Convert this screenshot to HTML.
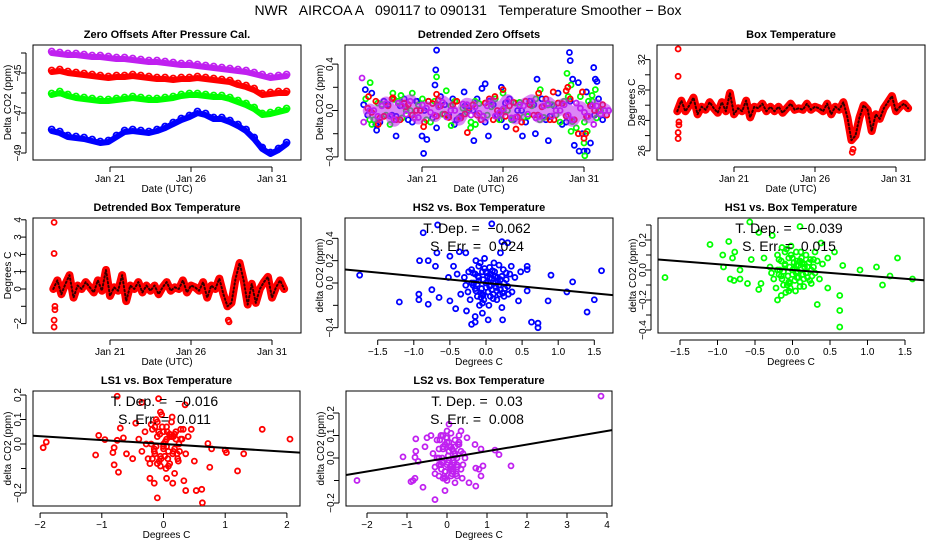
<!DOCTYPE html>
<html><head><meta charset="utf-8"><style>
body{margin:0;background:#fff}
svg{display:block;font-family:"Liberation Sans",Arial,sans-serif}
text{white-space:pre}
</style></head><body>
<svg id="c" width="936" height="540" viewBox="0 0 936 540">
<text x="468" y="15" text-anchor="middle" font-size="14" xml:space="preserve">NWR   AIRCOA A   090117 to 090131   Temperature Smoother − Box</text>
</svg>
<script>
// ---------- data ----------
const seriesT0 = 17.4;
const seriesStep = 0.5;
const zeroPurple = [-44.0,-44.05,-44.1,-44.1,-44.15,-44.2,-44.2,-44.25,-44.3,-44.3,-44.35,-44.4,-44.45,-44.45,-44.5,-44.55,-44.6,-44.6,-44.65,-44.7,-44.75,-44.8,-44.85,-44.9,-44.95,-45.05,-45.15,-45.25,-45.2,-45.15];
const zeroRed = [-44.95,-44.9,-45.0,-45.05,-45.1,-45.15,-45.2,-45.25,-45.2,-45.2,-45.15,-45.2,-45.25,-45.3,-45.3,-45.35,-45.3,-45.3,-45.25,-45.3,-45.35,-45.4,-45.45,-45.6,-45.7,-45.85,-46.1,-46.05,-46.0,-46.0];
const zeroGreen = [-46.1,-46.0,-46.15,-46.25,-46.3,-46.35,-46.4,-46.4,-46.35,-46.3,-46.25,-46.3,-46.35,-46.35,-46.3,-46.25,-46.15,-46.1,-46.1,-46.15,-46.2,-46.2,-46.3,-46.45,-46.6,-46.8,-47.1,-47.05,-46.95,-46.85];
const zeroBlue = [-47.9,-48.0,-48.2,-48.25,-48.3,-48.4,-48.5,-48.45,-48.2,-47.95,-47.9,-47.95,-48.0,-47.9,-47.75,-47.55,-47.35,-47.2,-47.0,-47.1,-47.3,-47.3,-47.45,-47.65,-47.9,-48.3,-48.8,-49.05,-48.85,-48.55];

const detBlue = [0.05,0.15,-0.1,0.05,-0.05,0.1,-0.1,0.0,0.08,-0.15,0.05,0.1,-0.05,0.0,0.1,-0.1,0.05,-0.08,0.1,0.0,-0.1,0.05,0.1,-0.05,0.15,-0.1,-0.3,-0.2,0.05,0.1];
const detGreen = [0.1,-0.08,0.05,-0.12,0.08,0.0,-0.06,0.1,-0.1,0.04,-0.05,0.08,0.02,-0.1,0.06,-0.04,0.1,0.0,-0.08,0.07,-0.05,0.1,-0.06,0.05,-0.1,0.12,-0.15,-0.1,0.08,0.0];
const detRed = [0.02,0.08,-0.05,0.1,-0.08,0.05,0.0,-0.1,0.06,0.04,-0.06,0.08,-0.03,0.05,-0.08,0.1,0.0,-0.05,0.07,-0.1,0.05,-0.04,0.1,-0.08,0.06,0.1,-0.2,-0.05,0.0,0.05];
const detPurple = [0.0,-0.05,0.06,-0.08,0.04,0.08,-0.06,0.02,-0.04,0.07,0.0,-0.07,0.05,0.03,-0.05,0.06,-0.02,0.08,-0.06,0.04,0.08,-0.05,0.06,0.0,0.05,-0.08,0.02,-0.05,0.04,0.0];
const outBlueT = [17.5,18.2,19.4,20.7,21.0,21.1,21.3,21.8,21.85,21.9,23.0,23.6,24.2,24.7,24.9,25.1,25.9,26.2,27.2,28.1,28.0,28.8,30.1,30.15,30.3,30.7,31.0,31.2,31.4,31.6,31.7,31.8];
const outBlueV = [0.18,-0.17,-0.22,0.08,-0.22,-0.37,-0.25,0.22,0.35,0.52,-0.12,0.16,-0.26,0.19,0.23,-0.22,0.2,-0.14,-0.22,0.27,-0.2,-0.26,0.5,0.43,0.27,-0.35,-0.35,-0.35,-0.28,0.37,0.27,0.25];
const outGreenT = [17.8,17.9,19.2,19.7,20.4,21.9,22.5,22.8,24.0,24.3,26.0,28.3,29.95,30.2,30.2,31.0,31.05,31.2,31.5,31.7];
const outGreenV = [0.24,-0.12,0.15,0.13,0.15,0.29,0.17,-0.13,-0.15,-0.12,0.15,0.18,0.32,0.22,-0.18,-0.28,-0.39,-0.18,0.13,0.18];
const outRedT = [17.7,18.3,19.2,20.0,21.1,21.9,22.0,23.8,25.5,26.0,26.8,28.2,29.1,29.9,30.0,31.0,31.1,31.2];
const outRedV = [0.12,-0.12,0.11,0.03,-0.14,0.14,0.09,-0.19,0.12,0.18,-0.16,0.15,0.16,0.17,0.2,-0.24,-0.2,-0.05];
const outPurpleT = [17.3,17.4,31.6];
const outPurpleV = [0.28,-0.1,-0.12];

const boxT0 = 17.5;
const boxStep = 0.25;
const boxTemp = [28.6,29.3,28.6,29.0,29.5,28.4,28.9,28.7,29.2,28.8,28.5,29.2,28.6,29.8,28.4,28.8,28.6,29.3,28.2,28.9,28.8,29.1,28.6,28.9,28.6,28.9,28.5,28.8,29.1,28.7,28.8,28.7,29.1,28.7,28.9,28.8,28.6,29.1,28.4,28.9,28.7,29.2,28.2,26.7,27.0,28.2,29.0,28.7,27.3,28.4,28.1,28.8,29.2,29.6,28.6,28.9,29.1,28.8];
const boxOutT = [17.55,17.55,17.6,17.6,17.55,17.55,28.3,28.35];
const boxOutV = [32.7,30.9,27.9,27.7,27.2,26.8,25.9,26.1];
const detBox = [0.0,0.5,-0.3,0.3,0.8,-0.5,0.2,0.0,0.4,0.1,-0.2,0.5,-0.1,1.1,-0.4,0.1,-0.1,0.8,-0.7,0.2,0.0,0.4,-0.2,0.2,-0.1,0.2,-0.3,0.1,0.4,-0.1,0.1,0.0,0.5,-0.2,0.2,0.1,-0.1,0.4,-0.5,0.2,0.0,0.6,-0.3,-1.0,-0.8,0.6,1.5,0.5,-0.9,0.3,-0.8,0.0,0.4,0.7,-0.5,0.1,0.5,0.0];
const detBoxOutT = [17.55,17.55,17.6,17.6,17.55,17.55,28.3,28.35];
const detBoxOutV = [3.85,2.05,-1.0,-1.2,-1.8,-2.2,-1.8,-1.9];

const hs2X = [-1.75,-1.2,-0.93,-0.93,-0.92,-0.87,-0.8,-0.8,-0.75,-0.7,-0.68,-0.67,-0.65,-0.52,-0.5,-0.5,-0.45,-0.42,-0.37,-0.28,-0.27,-0.2,-0.15,-0.15,-0.05,0.03,0.08,0.2,0.22,0.23,0.22,0.3,0.57,0.57,0.63,0.72,0.72,0.86,0.9,1.12,1.2,1.4,1.5,1.6,0.45,0.48,0.35,0.57,-0.35,-0.4,
 -0.3,-0.25,-0.2,-0.18,-0.15,-0.12,-0.1,-0.08,-0.06,-0.05,-0.03,0.0,0.02,0.03,0.05,0.07,0.08,0.1,0.12,0.14,0.16,0.18,0.2,0.22,0.25,0.28,0.3,0.33,0.36,0.4,-0.22,-0.14,-0.09,-0.02,0.04,0.11,0.15,-0.28,-0.17,-0.04,0.06,0.13,0.24,0.31,-0.11,-0.07,0.01,0.09,0.19,-0.24,
 -0.2,-0.15,-0.1,-0.05,0,0.05,0.1,0.15,0.2,0.25,-0.18,-0.12,-0.07,-0.02,0.03,0.08,0.13,0.18,0.23,0.28,-0.1,-0.05,0.0,0.05,0.1,-0.14,-0.04,0.06,0.16,0.26];
const hs2Y = [0.07,-0.17,-0.1,-0.15,0.2,0.45,-0.19,0.2,-0.06,0.15,0.27,0.52,-0.13,0.05,0.24,-0.16,0.15,-0.23,0.28,0.27,-0.25,-0.37,-0.3,-0.35,-0.27,-0.33,0.53,0.27,-0.22,-0.33,0.37,0.36,0.15,0.12,-0.35,-0.36,-0.4,-0.16,0.07,-0.08,0.01,-0.26,-0.15,0.11,-0.16,0.1,0.15,-0.07,-0.1,0.08,
 0.05,-0.08,0.12,-0.02,0.08,-0.12,0.02,0.18,-0.05,0.1,-0.15,0.0,0.06,-0.08,0.14,-0.02,0.04,-0.1,0.1,-0.04,0.02,0.16,-0.06,0.06,-0.12,0.03,-0.03,0.08,-0.08,0.05,-0.15,0.2,-0.2,0.22,-0.2,0.18,-0.15,-0.02,0.0,0.03,-0.12,0.0,0.12,-0.1,0.06,-0.09,0.09,0.11,-0.1,0.1,
 0.0,-0.05,0.05,-0.1,0.1,-0.03,0.07,-0.07,0.03,0.0,0.09,-0.01,-0.13,0.13,0.01,-0.06,0.06,-0.02,-0.09,0.09,0.15,-0.18,-0.04,0.04,-0.14,-0.07,-0.11,0.08,0.05,-0.05];
const hs2Fit = [0.0, -0.062];

const hs1X = [-1.7,-1.1,-0.93,-0.92,-0.85,-0.83,-0.8,-0.78,-0.77,-0.7,-0.7,-0.6,-0.57,-0.45,-0.45,-0.42,-0.27,-0.2,0.1,0.33,0.38,0.56,0.63,0.63,0.63,0.67,0.9,1.12,1.2,1.3,1.4,1.6,0.47,0.47,0.3,-0.55,-0.38,-0.15,
 -0.3,-0.25,-0.2,-0.18,-0.15,-0.12,-0.1,-0.08,-0.06,-0.05,-0.03,0.0,0.02,0.03,0.05,0.07,0.08,0.1,0.12,0.14,0.16,0.18,0.2,0.22,0.25,0.28,0.3,0.33,0.36,0.4,-0.22,-0.14,-0.09,-0.02,0.04,0.11,0.15,-0.28,-0.17,-0.04,0.06,0.13,0.24,
 -0.2,-0.15,-0.1,-0.05,0,0.05,0.1,0.15,0.2,0.25,-0.18,-0.12,-0.07,-0.02,0.03,0.08,0.13,0.18,0.23,0.28,-0.1,-0.05,0.0,0.05,0.1,-0.14,-0.04,0.06,0.16,0.26];
const hs1Y = [-0.05,0.17,0.1,0.02,0.19,-0.06,0.08,-0.07,0.12,-0.06,0.0,-0.09,0.32,0.25,-0.13,-0.09,0.23,-0.2,0.29,-0.23,0.18,0.12,-0.17,-0.27,-0.38,0.03,0.0,0.02,-0.1,-0.04,0.08,-0.06,0.08,-0.12,0.12,0.07,0.08,-0.17,
 0.02,-0.06,0.1,-0.03,0.06,-0.1,0.03,0.14,-0.04,0.08,-0.12,0.0,0.05,-0.07,0.12,-0.01,0.03,-0.08,0.08,-0.03,0.02,0.1,-0.05,0.05,-0.09,0.02,-0.02,0.06,-0.06,0.04,-0.12,0.15,-0.15,0.16,-0.14,0.12,-0.11,-0.02,0.0,0.02,-0.05,0.04,0.07,
 0.0,-0.04,0.04,-0.08,0.08,-0.02,0.06,-0.06,0.02,0.0,0.07,-0.01,-0.1,0.1,0.01,-0.05,0.05,-0.02,-0.07,0.07,0.12,-0.14,-0.03,0.03,-0.11,-0.06,-0.09,0.06,0.04,-0.04];
const hs1Fit = [0.0, -0.039];

const ls1X = [-1.95,-1.9,-1.1,-1.05,-0.95,-0.82,-0.8,-0.8,-0.75,-0.75,-0.73,-0.7,-0.65,-0.6,-0.5,-0.45,-0.35,-0.22,-0.15,-0.1,-0.08,0.05,0.15,0.18,0.35,0.33,0.36,0.53,0.62,0.63,0.75,0.78,0.72,1.0,1.02,1.2,1.3,1.6,2.05,0.45,0.5,
 -0.4,-0.35,-0.3,-0.25,-0.2,-0.15,-0.12,-0.1,-0.06,-0.03,0.0,0.02,0.05,0.08,0.1,0.13,0.16,0.2,0.24,0.28,0.32,0.36,0.4,-0.28,-0.18,-0.08,0.04,0.14,0.22,0.3,-0.22,-0.05,0.07,0.18,-0.14,0.0,
 -0.2,-0.15,-0.1,-0.05,0,0.05,0.1,0.15,0.2,0.25,-0.18,-0.12,-0.07,-0.02,0.03,0.08,0.13,0.18,0.23,0.28,-0.1,-0.05,0.0,0.05,0.1,-0.14,-0.04,0.06,0.16,0.26];
const ls1Y = [-0.015,0.008,-0.045,0.035,0.018,-0.035,-0.085,-0.015,0.195,0.015,-0.115,0.065,0.025,-0.04,-0.06,0.085,0.17,-0.14,-0.16,-0.22,0.185,-0.14,-0.16,-0.12,0.16,-0.15,-0.19,-0.19,-0.185,-0.24,-0.095,-0.02,0.002,-0.025,-0.035,-0.11,-0.04,0.06,0.02,0.06,-0.07,
 0.02,-0.03,0.05,-0.06,0.08,-0.02,0.1,-0.08,0.04,0.12,0.0,-0.05,0.07,-0.09,0.03,0.09,-0.03,0.05,-0.07,0.02,0.06,-0.04,0.03,0.0,-0.06,0.05,-0.1,0.11,-0.04,0.02,-0.08,0.13,-0.06,0.04,0.07,-0.01,
 0.0,-0.03,0.03,-0.05,0.05,-0.01,0.04,-0.04,0.02,0.0,0.06,-0.01,-0.07,0.07,0.01,-0.03,0.03,-0.02,-0.06,0.06,0.09,-0.09,-0.02,0.02,-0.08,-0.04,-0.06,0.05,0.03,-0.03];
const ls1Fit = [0.0, -0.016];

const ls2X = [-2.25,-1.1,-0.9,-0.85,-0.8,-0.8,-0.78,-0.78,-0.72,-0.6,-0.55,-0.5,-0.4,-0.3,-0.05,0.05,0.2,0.3,0.35,0.38,0.5,0.55,0.72,0.72,0.8,0.85,0.9,0.7,1.2,1.3,1.6,3.85,0.85,
 -0.35,-0.3,-0.25,-0.2,-0.15,-0.1,-0.05,0.0,0.05,0.1,0.15,0.2,0.25,0.3,0.35,0.4,0.45,-0.3,-0.2,-0.1,0.0,0.1,0.2,0.3,0.4,-0.25,-0.15,-0.05,0.05,0.15,0.25,0.35,-0.2,-0.1,0.0,0.1,0.2,-0.12,0.02,0.12,
 -0.2,-0.15,-0.1,-0.05,0,0.05,0.1,0.15,0.2,0.25,-0.18,-0.12,-0.07,-0.02,0.03,0.08,0.13,0.18,0.23,0.28,-0.1,-0.05,0.0,0.05,0.1,-0.14,-0.04,0.06,0.16,0.26];
const ls2Y = [-0.1,0.005,-0.105,-0.1,-0.09,0.003,0.085,0.03,-0.015,-0.13,0.05,0.09,0.1,-0.185,-0.145,0.15,-0.11,0.1,0.12,-0.09,0.09,-0.11,-0.125,-0.045,-0.05,-0.08,-0.035,0.06,0.035,0.015,-0.035,0.275,0.04,
 0.02,-0.04,0.08,-0.08,0.1,-0.02,0.06,-0.1,0.03,0.11,-0.06,0.05,-0.03,0.07,-0.05,0.02,0.0,-0.07,0.04,-0.09,0.09,-0.05,0.01,0.06,-0.03,0.0,0.1,-0.06,0.07,-0.01,-0.08,0.03,-0.03,0.05,0.12,-0.04,0.08,0.0,-0.02,-0.07,
 0.0,-0.03,0.04,-0.06,0.07,-0.01,0.05,-0.05,0.02,0.0,0.08,-0.02,-0.08,0.09,0.01,-0.04,0.04,-0.02,-0.07,0.06,0.1,-0.09,-0.03,0.03,-0.08,-0.05,-0.06,0.05,0.03,-0.04];
const ls2Fit = [0.0, 0.03];

// ---------- helpers ----------
const NS = 'http://www.w3.org/2000/svg';
const svg = document.getElementById('c');
function el(tag, attrs, parent){
  const e = document.createElementNS(NS, tag);
  for (const k in attrs) e.setAttribute(k, attrs[k]);
  (parent || svg).appendChild(e);
  return e;
}
function txt(x, y, s, size, name, extra){
  const t = el('text', Object.assign({x:x, y:y, 'font-size':size, 'text-anchor':'middle'}, extra || {}));
  t.textContent = s;
  
  
  return t;
}
function fmt(v){ return (v < 0 ? '−' : '') + Math.abs(v).toString(); }

function makePanel(p){
  const g = el('g', {});
  
  
  const f = el('rect', {x:p.x0, y:p.y0, width:p.x1-p.x0, height:p.y1-p.y0, fill:'none', stroke:'#000', 'stroke-width':1}, g);
  
  
  txt((p.x0+p.x1)/2, p.y0-7, p.title, 11, 'panel-title', {'font-weight':'bold'});
  const ya = el('g', {}, g);
  
  
  const ys = p.yTicks.map(p.sy);
  el('line', {x1:p.x0-7, x2:p.x0-7, y1:Math.min(...ys), y2:Math.max(...ys), stroke:'#000'}, ya);
  p.yTicks.forEach((v,i) => {
    const yy = p.sy(v);
    el('line', {x1:p.x0-12, x2:p.x0-7, y1:yy, y2:yy, stroke:'#000'}, ya);
    if (p.yLabels[i] !== '') {
      const t = txt(p.x0-12, yy, p.yLabels[i], 10, 'y-tick-label', {transform:`rotate(-90 ${p.x0-12} ${yy})`});
      ya.appendChild(t);
    }
  });
  txt(p.x0-22, (p.y0+p.y1)/2, p.yTitle, 10, 'y-axis-title', {transform:`rotate(-90 ${p.x0-22} ${(p.y0+p.y1)/2})`});
  const xa = el('g', {}, g);
  
  
  const xs = p.xTicks.map(p.sx);
  el('line', {x1:Math.min(...xs), x2:Math.max(...xs), y1:p.y1+7, y2:p.y1+7, stroke:'#000'}, xa);
  p.xTicks.forEach((v,i) => {
    const xx = p.sx(v);
    el('line', {x1:xx, x2:xx, y1:p.y1+7, y2:p.y1+12, stroke:'#000'}, xa);
    const t = txt(xx, p.y1+22, p.xLabels[i], 10, 'x-tick-label');
    xa.appendChild(t);
  });
  txt((p.x0+p.x1)/2, p.y1+32, p.xTitle, 10, 'x-axis-title');
  const clipId = 'clip' + Math.round(p.x0) + '_' + Math.round(p.y0);
  const cp = el('clipPath', {id:clipId}, g);
  el('rect', {x:p.x0, y:p.y0, width:p.x1-p.x0, height:p.y1-p.y0}, cp);
  const plot = el('g', {'clip-path':`url(#${clipId})`}, g);
  
  
  return plot;
}
function dot(parent, x, y, color, name, r){
  const c = el('circle', {cx:x, cy:y, r:r||2.5, fill:'none', stroke:color, 'stroke-width':1.8}, parent);
  
  
}
function band(parent, pts, color, name, w, dash){
  const pl = el('polyline', {points:pts.map(q=>q.join(',')).join(' '), fill:'none', stroke:color, 'stroke-width':w, 'stroke-linejoin':'round', 'stroke-linecap':'round'}, parent);
  if (dash) pl.setAttribute('stroke-dasharray', dash);
  
  
}
const dayTicks = [21, 26, 31];
const dayLabels = ['Jan 21', 'Jan 26', 'Jan 31'];

// ---------- Panel A ----------
{
  const sx = t => 110 + (t-21)*16.2;
  const sy = v => 73 - 20*(v+45);
  const p = makePanel({name:'zero-offsets-panel', title:'Zero Offsets After Pressure Cal.', x0:33,x1:301,y0:45,y1:160, sx, sy,
    yTicks:[-49,-48,-47,-46,-45,-44], yLabels:['−49','','−47','','−45',''], xTicks:dayTicks, xLabels:dayLabels, yTitle:'Delta CO2 (ppm)', xTitle:'Date (UTC)'});
  [[zeroBlue,'#0000ff','blue-series'],[zeroGreen,'#00ff00','green-series'],[zeroRed,'#ff0000','red-series'],[zeroPurple,'#c020f0','purple-series']].forEach(([arr,col,nm])=>{
    const pts = arr.map((v,i)=>[sx(seriesT0+i*seriesStep), sy(v)]);
    band(p, pts, col, nm, 6);
    pts.forEach(q=>dot(p, q[0], q[1]-1.5, col, nm+'-point', 3));
  });
}
// ---------- Panel B ----------
{
  const sx = t => 422 + (t-21)*16.2;
  const sy = v => 110.5 - 116*v;
  const p = makePanel({name:'detrended-zero-offsets-panel', title:'Detrended Zero Offsets', x0:345,x1:613,y0:45,y1:160, sx, sy,
    yTicks:[-0.4,-0.2,0,0.2,0.4], yLabels:['−0.4','','0.0','','0.4'], xTicks:dayTicks, xLabels:dayLabels, yTitle:'Delta CO2 (ppm)', xTitle:'Date (UTC)'});
  const sets = [[detBlue,outBlueT,outBlueV,'#0000ff','blue',0],[detGreen,outGreenT,outGreenV,'#00ff00','green',0.125],[detRed,outRedT,outRedV,'#ff0000','red',0.25],[detPurple,outPurpleT,outPurpleV,'#c020f0','purple',0.375]];
  sets.forEach(([core,ot,ov,col,nm,off])=>{
    core.forEach((v,i)=>{ dot(p, sx(seriesT0+off+i*seriesStep), sy(v), col, nm+'-point'); dot(p, sx(seriesT0+off+i*seriesStep+0.25), sy(-v*0.8), col, nm+'-point'); });
    ot.forEach((t,i)=>dot(p, sx(t), sy(ov[i]), col, nm+'-outlier'));
  });
  const pc = detPurple.map((v,i)=>[sx(seriesT0+0.375+i*seriesStep), sy(v)]);
  band(p, pc, 'rgba(192,32,240,0.55)', 'purple-band', 14);
}
// ---------- Panel C ----------
{
  const sx = t => 734 + (t-21)*16.2;
  const sy = v => 90 - 15.2*(v-30);
  const p = makePanel({name:'box-temperature-panel', title:'Box Temperature', x0:657,x1:925,y0:45,y1:160, sx, sy,
    yTicks:[26,27,28,29,30,31,32], yLabels:['26','','28','','30','','32'], xTicks:dayTicks, xLabels:dayLabels, yTitle:'Degrees C', xTitle:'Date (UTC)'});
  const pts = boxTemp.map((v,i)=>[sx(boxT0+i*boxStep), sy(v)]);
  band(p, pts, '#ff0000', 'box-temp-line', 8);
  band(p, pts, '#300', 'box-temp-texture', 2, '1.5,2.5');
  boxOutT.forEach((t,i)=>dot(p, sx(t), sy(boxOutV[i]), '#ff0000', 'box-temp-outlier'));
}
// ---------- Panel D ----------
{
  const sx = t => 110 + (t-21)*16.2;
  const sy = v => 289 - 17.3*v;
  const p = makePanel({name:'detrended-box-temperature-panel', title:'Detrended Box Temperature', x0:33,x1:301,y0:218,y1:333, sx, sy,
    yTicks:[-2,-1,0,1,2,3,4], yLabels:['−2','','0','1','2','3','4'], xTicks:dayTicks, xLabels:dayLabels, yTitle:'Degrees C', xTitle:'Date (UTC)'});
  const pts = detBox.map((v,i)=>[sx(boxT0+i*boxStep), sy(v)]);
  band(p, pts, '#ff0000', 'detrended-box-line', 8);
  band(p, pts, '#300', 'detrended-box-texture', 2, '1.5,2.5');
  detBoxOutT.forEach((t,i)=>dot(p, sx(t), sy(detBoxOutV[i]), '#ff0000', 'detrended-box-outlier'));
}
// ---------- scatter panels ----------
function scatter(cfg){
  const p = makePanel(cfg);
  cfg.xs.forEach((x,i)=>dot(p, cfg.sx(x), cfg.sy(cfg.ys[i]), cfg.color, 'scatter-point'));
  const xa = cfg.inv(cfg.x0), xb = cfg.inv(cfg.x1);
  const ln = el('line', {x1:cfg.x0, y1:cfg.sy(cfg.fit[0]+cfg.fit[1]*xa), x2:cfg.x1, y2:cfg.sy(cfg.fit[0]+cfg.fit[1]*xb), stroke:'#000', 'stroke-width':2}, p);
  
  
  const cx = (cfg.x0+cfg.x1)/2 - 2;
  txt(cx, cfg.y0+15, 'T. Dep. =  ' + fmt(cfg.fit[1]), 14, 'temperature-dependence-label');
  txt(cx, cfg.y0+33, 'S. Err. =  ' + cfg.err, 14, 'standard-error-label');
}
scatter({name:'hs2-vs-box-temp-panel', title:'HS2 vs. Box Temperature', x0:345,x1:613,y0:218,y1:333,
  sx:v=>486+72.2*v, inv:px=>(px-486)/72.2, sy:v=>283-111.7*v,
  yTicks:[-0.4,-0.2,0,0.2,0.4], yLabels:['−0.4','','0.0','0.2','0.4'], xTicks:[-1.5,-1,-0.5,0,0.5,1,1.5], xLabels:['−1.5','−1.0','−0.5','0.0','0.5','1.0','1.5'],
  yTitle:'delta CO2 (ppm)', xTitle:'Degrees C', xs:hs2X, ys:hs2Y, fit:hs2Fit, err:'0.024', color:'#0000ff'});
scatter({name:'hs1-vs-box-temp-panel', title:'HS1 vs. Box Temperature', x0:658,x1:924,y0:218,y1:333,
  sx:v=>792.5+75*v, inv:px=>(px-792.5)/75, sy:v=>270-150*v,
  yTicks:[-0.4,-0.3,-0.2,-0.1,0,0.1,0.2,0.3], yLabels:['−0.4','','−0.2','','0.0','','0.2',''], xTicks:[-1.5,-1,-0.5,0,0.5,1,1.5], xLabels:['−1.5','−1.0','−0.5','0.0','0.5','1.0','1.5'],
  yTitle:'delta CO2 (ppm)', xTitle:'Degrees C', xs:hs1X, ys:hs1Y, fit:hs1Fit, err:'0.015', color:'#00ff00'});
scatter({name:'ls1-vs-box-temp-panel', title:'LS1 vs. Box Temperature', x0:33,x1:300,y0:391,y1:506,
  sx:v=>163.5+61.7*v, inv:px=>(px-163.5)/61.7, sy:v=>444-245*v,
  yTicks:[-0.2,-0.1,0,0.1,0.2], yLabels:['−0.2','','0.0','0.1','0.2'], xTicks:[-2,-1,0,1,2], xLabels:['−2','−1','0','1','2'],
  yTitle:'delta CO2 (ppm)', xTitle:'Degrees C', xs:ls1X, ys:ls1Y, fit:ls1Fit, err:'0.011', color:'#ff0000'});
scatter({name:'ls2-vs-box-temp-panel', title:'LS2 vs. Box Temperature', x0:346,x1:612,y0:391,y1:506,
  sx:v=>447+40*v, inv:px=>(px-447)/40, sy:v=>458-225*v,
  yTicks:[-0.2,-0.1,0,0.1,0.2], yLabels:['−0.2','','0.0','0.1','0.2'], xTicks:[-2,-1,0,1,2,3,4], xLabels:['−2','−1','0','1','2','3','4'],
  yTitle:'delta CO2 (ppm)', xTitle:'Degrees C', xs:ls2X, ys:ls2Y, fit:ls2Fit, err:'0.008', color:'#c020f0'});
</script>
</body></html>
